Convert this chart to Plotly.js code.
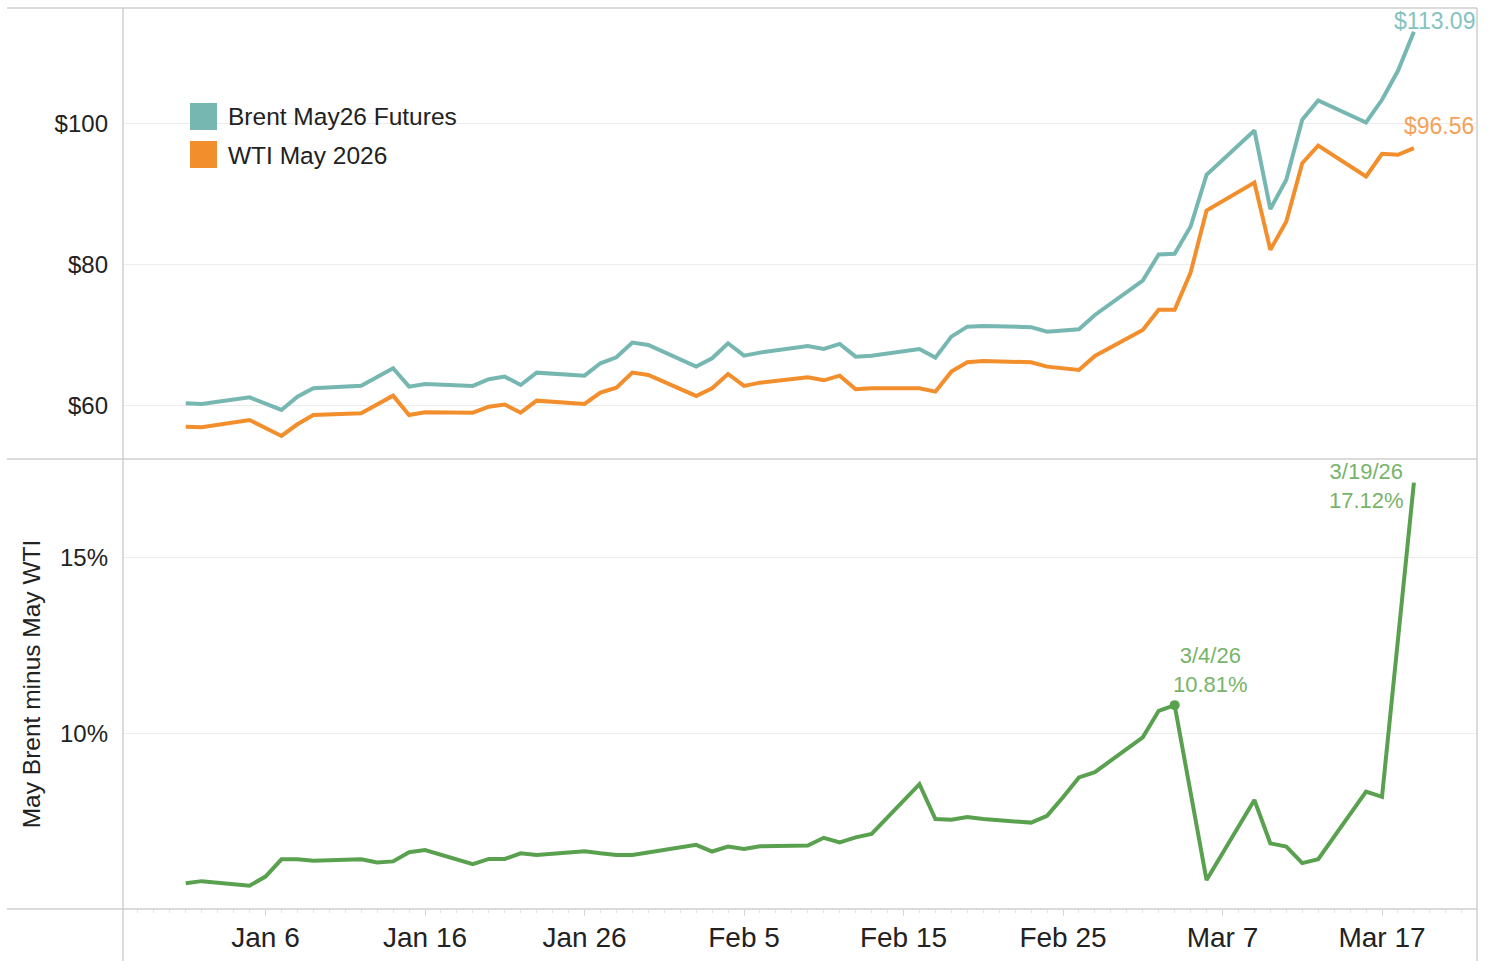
<!DOCTYPE html>
<html>
<head>
<meta charset="utf-8">
<script src="https://cdn.plot.ly/plotly-3.0.1.min.js"></script>
<style>html,body{margin:0;padding:0;background:#fff;}#chart{width:1492px;height:961px;}</style>
</head>
<body>
<div id="chart"></div>
<script>
// ---- data ----
const dates = [
  '2026-01-01','2026-01-02','2026-01-05','2026-01-06','2026-01-07','2026-01-08','2026-01-09',
  '2026-01-12','2026-01-13','2026-01-14','2026-01-15','2026-01-16',
  '2026-01-19','2026-01-20','2026-01-21','2026-01-22','2026-01-23',
  '2026-01-26','2026-01-27','2026-01-28','2026-01-29','2026-01-30',
  '2026-02-02','2026-02-03','2026-02-04','2026-02-05','2026-02-06',
  '2026-02-09','2026-02-10','2026-02-11','2026-02-12','2026-02-13',
  '2026-02-16','2026-02-17','2026-02-18','2026-02-19','2026-02-20',
  '2026-02-23','2026-02-24','2026-02-25','2026-02-26','2026-02-27',
  '2026-03-02','2026-03-03','2026-03-04','2026-03-05','2026-03-06',
  '2026-03-09','2026-03-10','2026-03-11','2026-03-12','2026-03-13',
  '2026-03-16','2026-03-17','2026-03-18','2026-03-19'
];
const brent = [
  60.34,60.24,61.19,60.30,59.39,61.28,62.47,
  62.84,64.15,65.31,62.70,63.08,
  62.80,63.75,64.12,62.94,64.69,
  64.26,66.02,66.87,68.95,68.62,
  65.54,66.73,68.86,67.10,67.53,
  68.48,68.05,68.76,66.96,67.10,
  68.05,66.82,69.80,71.22,71.32,
  71.14,70.51,70.68,70.85,72.88,
  77.76,81.45,81.55,85.43,92.77,
  99.06,87.90,92.06,100.58,103.32,
  100.20,103.42,107.54,113.09
];
const wti = [
  57.02,56.93,57.97,56.85,55.70,57.36,58.68,
  58.92,60.24,61.42,58.68,59.06,
  59.00,59.86,60.17,59.00,60.71,
  60.24,61.85,62.56,64.69,64.36,
  61.38,62.47,64.50,62.80,63.27,
  64.03,63.60,64.26,62.33,62.47,
  62.47,61.99,64.83,66.16,66.35,
  66.16,65.54,65.30,65.07,67.06,
  70.75,73.60,73.60,78.90,87.70,
  91.68,82.12,86.14,94.43,96.93,
  92.53,95.75,95.61,96.56
];
const spread = [
  5.76,5.82,5.69,5.95,6.44,6.44,6.40,
  6.44,6.35,6.38,6.64,6.70,
  6.30,6.45,6.45,6.61,6.56,
  6.67,6.61,6.56,6.56,6.63,
  6.85,6.66,6.80,6.73,6.81,
  6.83,7.05,6.92,7.06,7.16,
  8.57,7.58,7.56,7.64,7.58,
  7.48,7.67,8.20,8.76,8.91,
  9.90,10.65,10.81,8.33,5.85,
  8.12,6.89,6.80,6.33,6.44,
  8.36,8.21,12.60,17.12
];
const seriesNames = ['Brent May26 Futures','WTI May 2026','May Brent minus May WTI'];
const priceTicks = [60,80,100];
const priceTickText = ['$60','$80','$100'];
const spreadTicks = [10,15];
const spreadTickText = ['10%','15%'];
const highlightDate = '2026-03-04';

// ---- styling ----
const W = 1492, H = 961;
const M = {l:123, r:15, t:8, b:52};
const PW = W - M.l - M.r, PH = H - M.t - M.b;
const px = x => (x - M.l) / PW;          // pixel -> paper x
const py = y => (H - M.b - y) / PH;       // pixel -> paper y
const split = py(459);
const FONT = 'Arial, "Liberation Sans", sans-serif';
const C_BRENT = '#76b7b2', C_WTI = '#f28e2b', C_SPREAD = '#59a14f';
const GRID = '#ececec', BORDER = '#cfcfcf';
const LW = 4;

const last = dates.length - 1;
const hi = dates.indexOf(highlightDate);
const fmtDate = d => { const p = d.split('-'); return (+p[1]) + '/' + (+p[2]) + '/' + p[0].slice(2); };

const traces = [
  {x: dates, y: brent, name: seriesNames[0], type: 'scatter', mode: 'lines',
   line: {color: C_BRENT, width: LW}, xaxis: 'x', yaxis: 'y', showlegend: false},
  {x: dates, y: wti, name: seriesNames[1], type: 'scatter', mode: 'lines',
   line: {color: C_WTI, width: LW}, xaxis: 'x', yaxis: 'y', showlegend: false},
  {x: dates, y: spread, name: seriesNames[2], type: 'scatter', mode: 'lines',
   line: {color: C_SPREAD, width: LW}, xaxis: 'x', yaxis: 'y2', showlegend: false},
  {x: [dates[hi]], y: [spread[hi]], type: 'scatter', mode: 'markers',
   marker: {color: C_SPREAD, size: 10}, xaxis: 'x', yaxis: 'y2', showlegend: false}
];

const hline = (y, x0, x1) => ({type:'line', xref:'paper', yref:'paper', x0:x0, x1:x1, y0:y, y1:y,
  line:{color: BORDER, width: 1.5}, layer:'above'});
const vline = (x, y0, y1) => ({type:'line', xref:'paper', yref:'paper', x0:x, x1:x, y0:y0, y1:y1,
  line:{color: BORDER, width: 1.5}, layer:'above'});

const layout = {
  width: W, height: H,
  margin: M,
  paper_bgcolor: '#fff', plot_bgcolor: '#fff',
  font: {family: FONT, color: '#333'},
  showlegend: false,
  xaxis: {
    type: 'date', anchor: 'y2',
    range: ['2025-12-28 01:35', '2026-03-22 22:57'],
    tick0: '2026-01-06', dtick: 10 * 86400000, tickformat: '%b %-d',
    ticks: 'outside', ticklen: 6, tickcolor: '#d6d6d6', tickwidth: 1,
    minor: {dtick: 86400000, ticks: 'outside', ticklen: 3, tickcolor: '#e3e3e3', showgrid: false},
    showgrid: false, zeroline: false, showline: false,
    ticklabelstandoff: -3,
    tickfont: {size: 28, color: '#222', family: FONT}
  },
  yaxis: {
    domain: [split, 1], range: [52.43, 116.45],
    tickvals: priceTicks, ticktext: priceTickText,
    showgrid: true, gridcolor: GRID, gridwidth: 1, zeroline: false, showline: false,
    ticks: '', ticklabelstandoff: 14,
    tickfont: {size: 24, color: '#222', family: FONT}
  },
  yaxis2: {
    domain: [0, split], range: [5.03, 17.79],
    tickvals: spreadTicks, ticktext: spreadTickText,
    showgrid: true, gridcolor: GRID, gridwidth: 1, zeroline: false, showline: false,
    ticks: '', ticklabelstandoff: 14,
    tickfont: {size: 24, color: '#222', family: FONT},
    title: {text: seriesNames[2], font: {size: 24.5, color: '#222', family: FONT}, standoff: 12}
  },
  shapes: [
    hline(1, px(7), 1), hline(split, px(7), 1), hline(0, px(7), 1),
    vline(0, 1, py(961)), vline(1, 1, py(961)),
    {type:'rect', xref:'paper', yref:'paper', x0:px(190), x1:px(217), y0:py(130), y1:py(103),
     fillcolor: C_BRENT, line:{width:0}},
    {type:'rect', xref:'paper', yref:'paper', x0:px(190), x1:px(217), y0:py(168), y1:py(141),
     fillcolor: C_WTI, line:{width:0}}
  ],
  annotations: [
    {xref:'paper', yref:'paper', x:px(226), y:py(117), text: seriesNames[0], showarrow:false,
     xanchor:'left', yanchor:'middle', font:{size:24.5, color:'#222', family: FONT}},
    {xref:'paper', yref:'paper', x:px(226), y:py(155), text: seriesNames[1], showarrow:false,
     xanchor:'left', yanchor:'middle', font:{size:24.5, color:'#222', family: FONT}},
    {xref:'x', yref:'y', x: dates[last], y: brent[last], text: '$' + brent[last].toFixed(2),
     showarrow:false, xanchor:'center', yanchor:'bottom', xshift: 21, yshift: -4,
     font:{size:23, color:'#85c3be', family: FONT}},
    {xref:'x', yref:'y', x: dates[last], y: wti[last], text: '$' + wti[last].toFixed(2),
     showarrow:false, xanchor:'center', yanchor:'bottom', xshift: 25, yshift: 7,
     font:{size:23, color:'#f5a25a', family: FONT}},
    {xref:'x', yref:'y2', x: dates[last], y: spread[last],
     text: fmtDate(dates[last]) + '<br>' + spread[last].toFixed(2) + '%',
     showarrow:false, xanchor:'right', yanchor:'middle', xshift: -8, yshift: -3,
     font:{size:22, color:'#77b46a', family: FONT}},
    {xref:'x', yref:'y2', x: dates[hi], y: spread[hi],
     text: fmtDate(dates[hi]) + '<br>' + spread[hi].toFixed(2) + '%',
     showarrow:false, xanchor:'center', yanchor:'bottom', xshift: 36, yshift: 6,
     font:{size:22, color:'#77b46a', family: FONT}}
  ]
};

Plotly.newPlot('chart', traces, layout, {displayModeBar: false, staticPlot: true});
</script>
</body>
</html>
